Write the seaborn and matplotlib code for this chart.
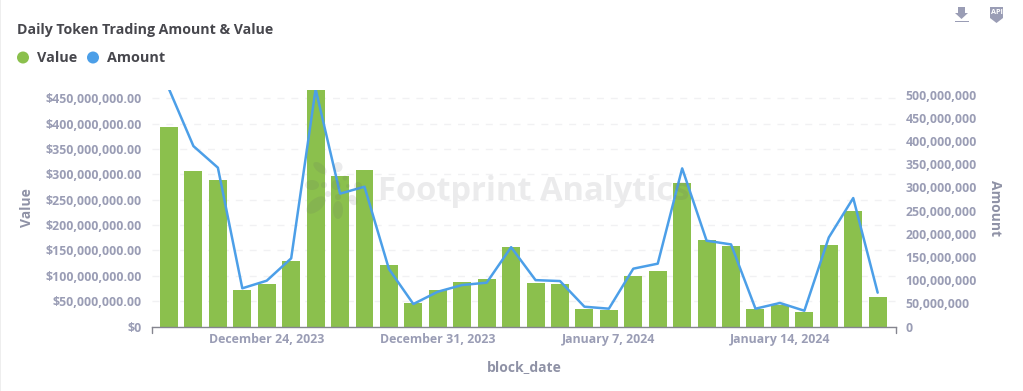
import pandas as pd
import matplotlib.pyplot as plt
import seaborn as sns
from matplotlib.patches import Circle, Ellipse, Polygon, Rectangle
from matplotlib.ticker import FuncFormatter

W, H = 1023, 391

dates = pd.date_range('2023-12-20', '2024-01-18').strftime('%Y-%m-%d').tolist()
value = [393.7, 307, 289, 72, 84, 129, 480, 297, 308.6, 121, 46.4, 72, 88, 93.7, 157,
         86, 84, 34.5, 32.6, 99.7, 109.5, 283, 170.7, 159, 34.5, 42.4, 28.6, 160.8, 227.6, 58]
amount = [512, 389, 342.5, 82.4, 98.8, 147, 512, 286.5, 301.5, 124, 48.5, 75, 89.5, 94.5, 171,
          100, 98, 42.7, 38.4, 124.7, 135.5, 341, 185, 177, 38.4, 50.7, 34, 192, 277, 73]
date_ticks = ['2023-12-24', '2023-12-31', '2024-01-07', '2024-01-14']
date_labels = ['December 24, 2023', 'December 31, 2023', 'January 7, 2024', 'January 14, 2024']
left_ticks = [0, 50, 100, 150, 200, 250, 300, 350, 400, 450]
right_ticks = [0, 50, 100, 150, 200, 250, 300, 350, 400, 450, 500]

df = pd.DataFrame({'block_date': dates,
                   'Value': [v * 1e6 for v in value],
                   'Amount': [a * 1e6 for a in amount]})

GREEN = '#8BC04D'
BLUE = '#4C9FE8'
TICK = '#9A9DB5'
LABEL = '#8F92A6'
DARK = '#47474D'

sns.set_style('white')
plt.rcParams['font.family'] = ['Open Sans', 'DejaVu Sans']

fig = plt.figure(figsize=(W / 100, H / 100), dpi=100)
ax = fig.add_axes([151.5 / W, 1 - 326.5 / H, (896 - 151.5) / W, (326.5 - 90) / H])

sns.barplot(data=df, x='block_date', y='Value', color=GREEN, saturation=1, width=0.736,
            linewidth=0, ax=ax, zorder=2)
ax.set_xlim(-0.716, 29.75)
ax.set_ylim(0, 466.7e6)
ax.set_yticks([t * 1e6 for t in left_ticks])
ax.yaxis.set_major_formatter(FuncFormatter(lambda v, p: '$0' if v == 0 else f'${v:,.2f}'))
ax.set_xticks([dates.index(d) for d in date_ticks])
ax.set_xticklabels(date_labels)
ax.grid(axis='y', color='#F1F1F3', linestyle=(0, (5, 5)), linewidth=1)
ax.set_axisbelow(True)
ax.tick_params(axis='y', length=0, pad=7, labelsize=8.9, labelcolor=TICK)
ax.tick_params(axis='x', length=0, pad=5, labelsize=8.9, labelcolor=TICK)
for lab in ax.get_yticklabels() + ax.get_xticklabels():
    lab.set_fontweight('bold')
ax.set_xlabel('block_date', fontsize=10, fontweight='bold', color=LABEL)
ax.set_ylabel('Value', fontsize=10, fontweight='bold', color=LABEL)
ax.xaxis.set_label_coords((524 - 151.5) / (896 - 151.5), -(367 - 326.5) / (326.5 - 90), transform=ax.transAxes)
ax.xaxis.label.set_verticalalignment('center')
ax.yaxis.set_label_coords((27 - 151.5) / (896 - 151.5), (326.5 - 208) / (326.5 - 90), transform=ax.transAxes)
ax.yaxis.label.set_verticalalignment('center')
for s in ['top', 'left', 'right']:
    ax.spines[s].set_visible(False)
ax.spines['bottom'].set_color('#85858F')
ax.spines['bottom'].set_linewidth(1)

ax2 = ax.twinx()
sns.lineplot(data=df, x='block_date', y='Amount', color=BLUE, linewidth=1.8, ax=ax2, zorder=3)
ax2.set_ylim(0, 510e6)
ax2.set_yticks([t * 1e6 for t in right_ticks])
ax2.yaxis.set_major_formatter(FuncFormatter(lambda v, p: f'{v:,.0f}'))
ax2.tick_params(axis='y', length=0, pad=7, labelsize=8.9, labelcolor=TICK)
for lab in ax2.get_yticklabels():
    lab.set_fontweight('bold')
ax2.set_ylabel('Amount', fontsize=10, fontweight='bold', color=LABEL, rotation=270)
ax2.yaxis.set_label_coords((995 - 151.5) / (896 - 151.5), (326.5 - 208) / (326.5 - 90), transform=ax2.transAxes)
ax2.yaxis.label.set_verticalalignment('center')
ax2.grid(False)
for s in ax2.spines.values():
    s.set_visible(False)

# overlay layer in pixel coordinates for the chrome around the chart
ov = fig.add_axes([0, 0, 1, 1], zorder=5)
ov.set_xlim(0, W)
ov.set_ylim(H, 0)
ov.axis('off')
ov.patch.set_alpha(0)

# end ticks of the x axis
ov.plot([151.5, 151.5], [326.5, 333], color='#85858F', lw=1)
ov.plot([896, 896], [326.5, 333], color='#85858F', lw=1)

# left border of the card
ov.add_patch(Rectangle((0, 0), 1, H, color='#EEEEEE', lw=0))

ov.text(17, 30, 'Daily Token Trading Amount & Value', fontsize=10.2, fontweight='bold', color=DARK, va='center')
ov.add_patch(Circle((23, 57.5), 6, color=GREEN, lw=0))
ov.text(37, 58, 'Value', fontsize=10.4, fontweight='bold', color=DARK, va='center')
ov.add_patch(Circle((93, 57.5), 6, color=BLUE, lw=0))
ov.text(107, 58, 'Amount', fontsize=10.4, fontweight='bold', color=DARK, va='center')

# watermark
WM = '#5E6068'
ov.text(378, 191, 'Footprint Analytics', fontsize=23.5, fontweight='bold', color=WM, alpha=0.12, va='center')
for cx, cy, w, h, a in [(320, 168, 16, 8, 40), (312, 185, 14, 10, 0), (316, 205, 23, 12, -40), (338, 210, 10, 18, 0),
                        (336, 185, 9, 10, 0), (324, 185, 6, 6, 0), (328, 194, 6, 6, 0), (338, 197, 6, 6, 0),
                        (338, 167, 9, 10, 0), (345, 178, 5, 5, 0), (348, 186, 4, 4, 0), (358, 186, 8, 8, 0),
                        (353, 200, 8, 11, -30)]:
    ov.add_patch(Ellipse((cx, cy), w, h, angle=a, color=WM, alpha=0.12, lw=0))

# toolbar icons
ov.add_patch(Polygon([[958, 7], [965, 7], [965, 13], [968, 13], [961.5, 19], [955, 13], [958, 13]], color=TICK, lw=0))
ov.add_patch(Rectangle((954.5, 20.5), 14, 1.6, color=TICK, lw=0))
ov.add_patch(Polygon([[990, 7], [1003, 7], [1003, 18], [996.5, 23], [990, 18]], color=TICK, lw=0))
ov.text(996.5, 13, 'API', fontsize=5.2, fontweight='bold', color='white', ha='center', va='center')

fig.savefig('out.png', dpi=100)
